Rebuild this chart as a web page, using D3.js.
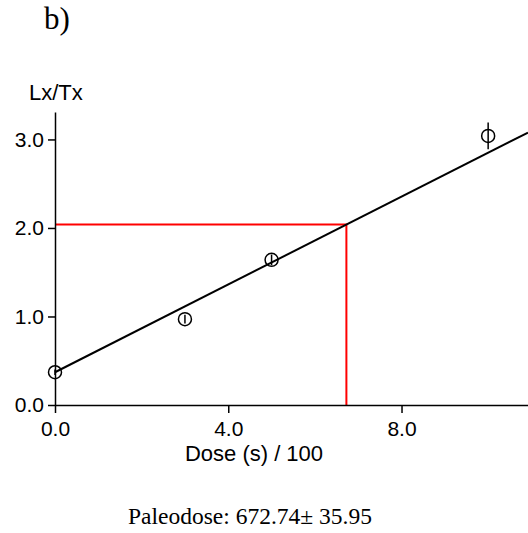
<!DOCTYPE html>
<html>
<head>
<meta charset="utf-8">
<script src="https://cdn.jsdelivr.net/npm/d3@7"></script>
<style>
  body { margin: 0; background: #fff; }
  svg { display: block; }
  .axis text { font-family: "Liberation Sans", Arial, sans-serif; font-size: 21px; fill: #000; }
  .axis path, .axis line { stroke: #000; stroke-width: 1.5px; }
</style>
</head>
<body>
<script>
// dose points (s / 100) and Lx/Tx values
var doses = [0, 3, 5, 10];
var lxtx = [0.37, 0.97, 1.64, 3.04];
var errs = [0.03, 0.05, 0.06, 0.15];
var xTicks = [0, 4, 8];
var yTicks = [0, 1, 2, 3];
// fitted line and the result
var fitIntercept = 0.37, fitSlope = 0.248;
var paleodose = 6.7274, naturalLxTx = 2.04;

var width = 528, height = 533;
var margin = {left: 55, top: 112, right: 0, bottom: 128};

var x = d3.scaleLinear()
    .domain([0, 10.92])
    .range([margin.left, width]);

var y = d3.scaleLinear()
    .domain([0, 3.31])
    .range([405, margin.top]);

var svg = d3.select("body").append("svg")
    .attr("width", width)
    .attr("height", height);

svg.append("text")
    .attr("x", 44).attr("y", 29)
    .style("font-family", "'Liberation Serif', 'Times New Roman', serif")
    .style("font-size", "31px")
    .text("b)");

svg.append("text")
    .attr("x", 29).attr("y", 100)
    .style("font-family", "'Liberation Sans', Arial, sans-serif")
    .style("font-size", "22px")
    .text("Lx/Tx");

// red lines for the natural signal
svg.append("path")
    .attr("d", "M" + x(0) + "," + y(naturalLxTx) + "H" + x(paleodose) + "V" + y(0))
    .attr("fill", "none")
    .attr("stroke", "#f00")
    .attr("stroke-width", 2);

var xAxis = d3.axisBottom(x)
    .tickValues(xTicks)
    .tickSize(8)
    .tickSizeOuter(0)
    .tickFormat(d3.format(".1f"));

var yAxis = d3.axisLeft(y)
    .tickValues(yTicks)
    .tickSize(7)
    .tickSizeOuter(0)
    .tickFormat(d3.format(".1f"));

svg.append("g")
    .attr("class", "axis")
    .attr("transform", "translate(0," + y(0) + ")")
    .call(xAxis)
    .call(g => g.selectAll(".tick text").attr("dy", null).attr("y", 31));

svg.append("g")
    .attr("class", "axis")
    .attr("transform", "translate(" + x(0) + ",0)")
    .call(yAxis)
    .call(g => g.selectAll(".tick text").attr("x", -11));

// fit line
svg.append("line")
    .attr("x1", x(0)).attr("y1", y(fitIntercept))
    .attr("x2", x(10.92)).attr("y2", y(fitIntercept + fitSlope * 10.92))
    .attr("stroke", "#000")
    .attr("stroke-width", 2);

var pts = doses.map((d, i) => ({dose: d, v: lxtx[i], e: errs[i]}));

svg.selectAll(".err")
    .data(pts)
  .enter().append("line")
    .attr("class", "err")
    .attr("x1", d => x(d.dose)).attr("x2", d => x(d.dose))
    .attr("y1", d => y(d.v - d.e)).attr("y2", d => y(d.v + d.e))
    .attr("stroke", "#000")
    .attr("stroke-width", 1.5);

svg.selectAll(".dot")
    .data(pts)
  .enter().append("circle")
    .attr("class", "dot")
    .attr("cx", d => x(d.dose))
    .attr("cy", d => y(d.v))
    .attr("r", 6.5)
    .attr("fill", "none")
    .attr("stroke", "#000")
    .attr("stroke-width", 1.5);

svg.append("text")
    .attr("x", 254).attr("y", 461)
    .attr("text-anchor", "middle")
    .style("font-family", "'Liberation Sans', Arial, sans-serif")
    .style("font-size", "22px")
    .text("Dose (s) / 100");

svg.append("text")
    .attr("x", 128).attr("y", 524)
    .style("font-family", "'Liberation Serif', 'Times New Roman', serif")
    .style("font-size", "23.5px")
    .text("Paleodose: 672.74\u00b1 35.95");
</script>
</body>
</html>
